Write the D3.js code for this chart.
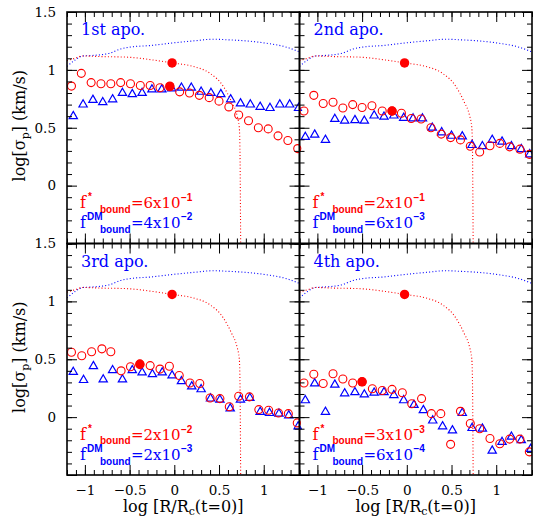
<!DOCTYPE html>
<html><head><meta charset="utf-8">
<script src="https://cdn.jsdelivr.net/npm/d3@7"></script>
<style>body{margin:0;background:#fff}</style>
</head><body>
<script>
// ---------------- data ----------------
const panelNames = ["1st apo.", "2nd apo.", "3rd apo.", "4th apo."];
const fStarMant = ["6", "2", "2", "3"];
const fStarExp  = ["\u22121", "\u22121", "\u22122", "\u22123"];
const fDMMant   = ["4", "6", "2", "6"];
const fDMExp    = ["\u22122", "\u22123", "\u22123", "\u22124"];

const xMajorTicks = [-1, -0.5, 0, 0.5, 1];
const yMajorTicks = [-0.5, 0, 0.5, 1, 1.5];
const yTickLabels = [0, 0.5, 1, 1.5];

// initial profiles (dotted), same in every panel
const initStarX = [-1.2, -1.11, -1.025, -0.83, -0.53, -0.235, -0.025, 0.21, 0.40, 0.55, 0.64, 0.70, 0.727, 0.735, 0.742];
const initStarY = [1.08, 1.10, 1.12, 1.115, 1.11, 1.085, 1.06, 1.03, 0.97, 0.855, 0.725, 0.61, 0.50, 0.27, -0.5];
const initDMX = [-1.2, -1.11, -1.025, -0.905, -0.72, -0.605, -0.46, -0.27, -0.05, 0.21, 0.44, 0.59, 0.81, 1.03, 1.26, 1.4];
const initDMY = [1.03, 1.085, 1.12, 1.125, 1.145, 1.18, 1.20, 1.21, 1.23, 1.25, 1.265, 1.26, 1.25, 1.23, 1.195, 1.155];

// half-light radius markers
const hlInitX = -0.025, hlInitY = 1.06;
const hlX = [-0.05, -0.165, -0.385, -0.50];
const hlY = [0.855, 0.645, 0.455, 0.305];

// stars (open circles)
const s1x = [-1.15,-1.04,-0.93,-0.82,-0.71,-0.60,-0.49,-0.38,-0.27,-0.16,-0.05,0.06,0.17,0.28,0.39,0.50,0.61,0.72,0.83,0.94,1.05,1.16,1.27,1.38];
const s1y = [0.86,0.97,0.89,0.88,0.88,0.89,0.88,0.865,0.865,0.845,0.86,0.81,0.80,0.78,0.76,0.73,0.68,0.61,0.56,0.50,0.49,0.43,0.39,0.32];
const s2x = [-1.23,-1.15,-1.04,-0.935,-0.825,-0.715,-0.605,-0.50,-0.39,-0.275,-0.165,-0.06,0.05,0.16,0.27,0.385,0.49,0.60,0.71,0.815,0.93,1.04,1.15,1.265,1.37];
const s2y = [0.32,0.645,0.78,0.71,0.72,0.67,0.70,0.675,0.69,0.645,0.645,0.625,0.58,0.575,0.50,0.445,0.415,0.395,0.34,0.29,0.345,0.365,0.335,0.315,0.27];
const s3x = [-1.15,-1.035,-0.925,-0.81,-0.71,-0.595,-0.49,-0.385,-0.27,-0.16,-0.055,0.055,0.175,0.285,0.40,0.51,0.615,0.72,0.84,0.945,1.055,1.165,1.275,1.375];
const s3y = [0.56,0.53,0.565,0.59,0.565,0.40,0.435,0.46,0.445,0.415,0.44,0.36,0.295,0.29,0.165,0.16,0.09,0.18,0.175,0.065,0.06,0.035,0.03,-0.05];
const s4x = [-1.235,-1.15,-1.04,-0.935,-0.825,-0.715,-0.605,-0.50,-0.385,-0.275,-0.165,-0.05,0.055,0.165,0.275,0.38,0.49,0.60,0.71,0.815,0.93,1.04,1.15,1.265,1.37];
const s4y = [-0.05,0.295,0.37,0.29,0.375,0.33,0.295,0.305,0.245,0.23,0.24,0.21,0.115,0.16,0.03,0.03,-0.235,0.05,-0.055,-0.10,-0.185,-0.23,-0.19,-0.19,-0.30];

// dark matter (open triangles)
const d1x = [-1.13,-1.02,-0.91,-0.80,-0.69,-0.58,-0.47,-0.36,-0.25,-0.14,-0.03,0.08,0.19,0.30,0.41,0.52,0.63,0.74,0.85,0.96,1.07,1.18,1.29,1.39];
const d1y = [0.60,0.70,0.74,0.72,0.745,0.80,0.79,0.80,0.83,0.83,0.84,0.845,0.845,0.81,0.80,0.79,0.745,0.71,0.70,0.68,0.67,0.70,0.70,0.67];
const d2x = [-1.225,-1.135,-1.03,-0.91,-0.805,-0.695,-0.58,-0.475,-0.365,-0.255,-0.145,-0.035,0.07,0.175,0.285,0.39,0.50,0.62,0.73,0.845,0.955,1.065,1.17,1.28,1.375];
const d2y = [0.67,0.42,0.44,0.395,0.575,0.56,0.565,0.56,0.605,0.595,0.605,0.585,0.58,0.58,0.50,0.46,0.43,0.425,0.35,0.34,0.395,0.38,0.34,0.315,0.27];
const d3x = [-1.13,-1.015,-0.905,-0.795,-0.69,-0.58,-0.47,-0.36,-0.245,-0.135,-0.025,0.08,0.195,0.30,0.405,0.51,0.625,0.74,0.845,0.96,1.065,1.17,1.28,1.385];
const d3y = [0.39,0.32,0.44,0.325,0.405,0.325,0.405,0.385,0.37,0.385,0.36,0.31,0.265,0.24,0.16,0.15,0.075,0.15,0.165,0.045,0.035,0.03,0.015,-0.08];
const d4x = [-1.225,-1.135,-1.03,-0.91,-0.805,-0.695,-0.58,-0.475,-0.365,-0.255,-0.145,-0.035,0.08,0.185,0.29,0.40,0.51,0.62,0.73,0.845,0.955,1.065,1.17,1.28,1.385];
const d4y = [-0.08,0.145,0.29,0.045,0.28,0.205,0.215,0.195,0.21,0.215,0.19,0.145,0.105,0.06,-0.03,-0.08,-0.115,0.035,-0.095,-0.10,-0.29,-0.215,-0.17,-0.20,-0.275];

const starsX = [s1x, s2x, s3x, s4x], starsY = [s1y, s2y, s3y, s4y];
const dmX = [d1x, d2x, d3x, d4x], dmY = [d1y, d2y, d3y, d4y];

// ---------------- drawing ----------------
const RED = "#ff0000", BLUE = "#0000ff";
const SERIF = "'DejaVu Serif', serif";
const SANS = "'Liberation Sans', Arial, sans-serif";
const svg = d3.select("body").append("svg").attr("width", 533).attr("height", 521);
const X0 = 67, Y0 = 12, PW = 232.5, PH = 231.5;
const zip = (a, b) => a.map((v, i) => [v, b[i]]);
const fmt = d => String(d).replace("-", "\u2212");
const minorX = d3.range(-12, 15).map(i => i / 10);
const minorY = d3.range(-5, 16).map(i => i / 10);

panelNames.forEach((name, i) => {
  const col = i % 2, row = Math.floor(i / 2);
  const px = X0 + col * PW, py = Y0 + row * PH;
  const x = d3.scaleLinear().domain([-1.2, 1.4]).range([px, px + PW]);
  const y = d3.scaleLinear().domain([-0.5, 1.5]).range([py + PH, py]);
  const g = svg.append("g");
  const cid = "clip" + i;
  svg.append("clipPath").attr("id", cid).append("rect")
    .attr("x", px).attr("y", py).attr("width", PW).attr("height", PH);
  const data = g.append("g").attr("clip-path", `url(#${cid})`);

  const line = d3.line().x(d => x(d[0])).y(d => y(d[1])).curve(d3.curveMonotoneX);
  data.append("path").attr("d", line(zip(initDMX, initDMY)))
    .attr("fill", "none").attr("stroke", BLUE).attr("stroke-width", 1.1).attr("stroke-dasharray", "1 2.2");
  data.append("path").attr("d", line(zip(initStarX, initStarY)))
    .attr("fill", "none").attr("stroke", RED).attr("stroke-width", 1.1).attr("stroke-dasharray", "1 2.2");

  data.selectAll("path.tri").data(zip(dmX[i], dmY[i])).enter().append("path")
    .attr("d", d3.symbol().type(d3.symbolTriangle).size(30))
    .attr("transform", d => `translate(${x(d[0])},${y(d[1])})`)
    .attr("fill", "none").attr("stroke", BLUE).attr("stroke-width", 1.2);
  data.selectAll("circle.st").data(zip(starsX[i], starsY[i])).enter().append("circle")
    .attr("cx", d => x(d[0])).attr("cy", d => y(d[1])).attr("r", 4)
    .attr("fill", "none").attr("stroke", RED).attr("stroke-width", 1.1);
  data.append("circle").attr("cx", x(hlInitX)).attr("cy", y(hlInitY)).attr("r", 4.7).attr("fill", RED);
  data.append("circle").attr("cx", x(hlX[i])).attr("cy", y(hlY[i])).attr("r", 4.7).attr("fill", RED);

  // axes (inward ticks on all four sides)
  const addAxis = (axis, tx, ty) => {
    const a = g.append("g").attr("transform", `translate(${tx},${ty})`).call(axis);
    a.select(".domain").remove();
    a.selectAll("line").attr("stroke", "#000").attr("stroke-width", 1);
    a.selectAll("text").attr("font-family", SERIF).attr("font-size", 13.5).attr("fill", "#000");
    return a;
  };
  addAxis(d3.axisBottom(x).tickValues(minorX).tickSize(-5).tickFormat(""), 0, py + PH);
  addAxis(d3.axisTop(x).tickValues(minorX).tickSize(-5).tickFormat(""), 0, py);
  addAxis(d3.axisLeft(y).tickValues(minorY).tickSize(-5).tickFormat(""), px, 0);
  addAxis(d3.axisRight(y).tickValues(minorY).tickSize(-5).tickFormat(""), px + PW, 0);
  addAxis(d3.axisBottom(x).tickValues(xMajorTicks).tickSize(-10).tickPadding(10)
    .tickFormat(d => row === 1 ? fmt(d) : ""), 0, py + PH);
  addAxis(d3.axisTop(x).tickValues(xMajorTicks).tickSize(-10).tickFormat(""), 0, py);
  addAxis(d3.axisLeft(y).tickValues(yMajorTicks).tickSize(-10).tickPadding(11)
    .tickFormat(d => (col === 0 && yTickLabels.includes(d)) ? fmt(d) : ""), px, 0);
  addAxis(d3.axisRight(y).tickValues(yMajorTicks).tickSize(-10).tickFormat(""), px + PW, 0);

  g.append("rect").attr("x", px).attr("y", py).attr("width", PW).attr("height", PH)
    .attr("fill", "none").attr("stroke", "#000").attr("stroke-width", 1.6);

  // panel label
  g.append("text").attr("x", px + 14).attr("y", py + 23).text(name)
    .attr("font-family", SERIF).attr("font-size", 16).attr("fill", BLUE);

  // bound fractions
  const b1 = py + PH - 35.5, b2 = py + PH - 15.5;
  const T = (tx, ty, txt, fam, size, col, weight) => g.append("text").attr("x", tx).attr("y", ty).text(txt)
    .attr("font-family", fam).attr("font-size", size).attr("fill", col).attr("font-weight", weight || "normal");
  T(px + 13, b1, "f", SERIF, 16, RED);
  T(px + 21, b1 - 8, "*", SANS, 10, RED, "bold");
  T(px + 33, b1 + 4.5, "bound", SANS, 10, RED, "bold");
  T(px + 64, b1, "=" + fStarMant[i] + "x10", SERIF, 15, RED);
  T(px + 114, b1 - 7, fStarExp[i], SANS, 10, RED, "bold");
  T(px + 13, b2, "f", SERIF, 16, BLUE);
  T(px + 20, b2 - 8, "DM", SANS, 10, BLUE, "bold");
  T(px + 33, b2 + 5, "bound", SANS, 10, BLUE, "bold");
  T(px + 64, b2, "=" + fDMMant[i] + "x10", SERIF, 15, BLUE);
  T(px + 114, b2 - 8, fDMExp[i], SANS, 10, BLUE, "bold");

  // axis titles
  if (row === 1) {
    const t = g.append("text").attr("x", px + PW / 2).attr("y", 512).attr("text-anchor", "middle")
      .attr("font-family", SERIF).attr("font-size", 16).attr("fill", "#000");
    t.append("tspan").text("log [R/R");
    t.append("tspan").text("c").attr("font-size", 11).attr("dy", 3);
    t.append("tspan").text("(t=0)]").attr("dy", -3);
  }
  if (col === 0) {
    const cy = py + PH / 2 - 2;
    const t = g.append("text").attr("transform", `translate(25,${cy}) rotate(-90)`).attr("text-anchor", "middle")
      .attr("font-family", SERIF).attr("font-size", 16).attr("fill", "#000");
    t.append("tspan").text("log[\u03c3");
    t.append("tspan").text("p").attr("font-size", 11).attr("dy", 4);
    t.append("tspan").text("] (km/s)").attr("dy", -4);
  }
});
</script>
</body></html>
